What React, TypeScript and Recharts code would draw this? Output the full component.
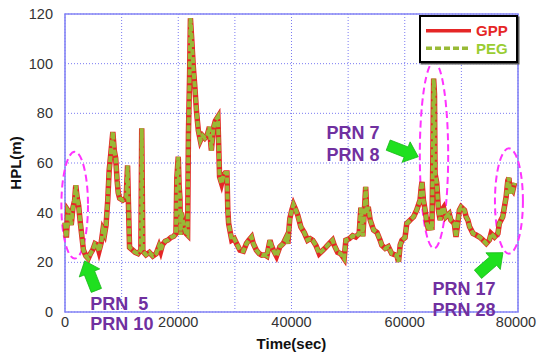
import React from "react";
import {
  LineChart, Line, XAxis, YAxis, CartesianGrid, Legend,
  ReferenceArea, ReferenceLine, ReferenceDot,
} from "recharts";

const FONT = "Arial, 'Liberation Sans', sans-serif";
const GPP_RED = "#e52626";
const PEG_GREEN = "#98ba36";
const GRID_BLUE = "#7b7bf2";

// time axis (s) and horizontal protection level (m)
const timeSec = [
  0, 250, 500, 800, 1100, 1400, 1700, 1900, 2150, 2400, 2700, 3000, 3250, 3700, 4100, 4500,
  4900, 5300, 5700, 6000, 6400, 6700, 7000, 7250, 7550, 7800, 8100, 8450, 8700, 8950, 9200, 9400,
  9650, 10200, 10800, 11050, 11200, 11400, 11900, 12400, 12900, 13400, 13550, 13750, 14300, 14900,
  15500, 16100, 16600, 16900, 17200, 17700, 18200, 18700, 19200, 19600, 19750, 20000, 20150, 20300,
  20400, 20550, 20800, 21100, 21400, 21650, 21800, 22000, 22150, 22350, 22650, 22950, 23250, 23550,
  23900, 24300, 24700, 25100, 25500, 25850, 26200, 26550, 27000, 27300, 27650, 28000, 28300, 28600,
  28750, 28900, 29150, 29450, 29900, 30300, 30900, 31500, 32050, 32500, 32950, 33250, 33800, 34300,
  34750, 35300, 35650, 36200, 36500, 36800, 37350, 37950, 38550, 39100, 39350, 39700, 40050, 40350,
  40700, 41100, 41650, 42250, 42850, 43300, 43750, 44300, 44900, 45500, 46050, 46650, 47250, 47550,
  48150, 48700, 49300, 49600, 50200, 50800, 51350, 51950, 52250, 52450, 52600, 52900, 53100, 53300,
  53550, 53900, 54500, 55100, 55650, 55950, 56550, 57100, 57700, 58300, 58600, 58900, 59200, 59500,
  60050, 60350, 60950, 61550, 62100, 62700, 62900, 63050, 63300, 63600, 63900, 64200, 64500, 64800,
  64950, 65100, 65250, 65350, 65650, 65950, 66250, 66550, 66850, 67250, 67850, 68150, 68750, 69050,
  69350, 69650, 69950, 70550, 70850, 71150, 71450, 71750, 72050, 72600, 73200, 73800, 74400, 74950,
  75250, 75850, 76450, 76700, 77000, 77300, 77600, 77900, 78200, 78400, 78600, 78800, 79100, 79400,
];

const hplGpp = [
  36, 30, 41, 40, 35, 42, 45, 51, 46, 43, 36, 30, 25, 22.5, 21.5, 23.5,
  25, 27.5, 27, 24.5, 28, 33, 31.5, 35, 45, 57, 64, 72.5, 65, 62, 53, 48,
  45.8, 45, 46, 59, 44, 26, 25, 24, 23.5, 25, 74, 24.5, 23, 24,
  22.5, 23.5, 26.5, 24.5, 27, 28.5, 29, 30, 30.5, 31.6, 54, 62.5, 51, 46,
  31, 40, 37, 34, 31.6, 31, 72, 94.6, 118.3, 111, 99, 90, 80, 73,
  69, 71, 70, 71, 74.5, 65, 74, 77, 78.6, 54.4, 51.8, 55, 56, 56,
  41, 35.6, 32.5, 28.9, 29.5, 27.6, 24.9, 24.5, 27.6, 29, 30.2, 27.6, 24.9, 23.5,
  22.9, 23, 22.5, 28.9, 26.5, 24.9, 22.5, 26.3, 27.6, 30.2, 27.5, 37.6, 41, 43.3,
  41.5, 39, 34.3, 32, 28.9, 29.5, 28.9, 26.9, 23.5, 24.8, 26, 27.5, 28.9, 26.9,
  24, 23.5, 21.5, 28.9, 29.5, 30.7, 30.2, 31.6, 42, 35, 30.5, 42, 50.4, 40,
  42.3, 37, 33, 32, 28.9, 26.9, 25.6, 26.3, 23.5, 23, 22.9, 20.2, 27, 28.9,
  30, 35.6, 37, 38.3, 41, 45, 50, 52.4, 45, 41, 36, 33, 35.6, 33,
  60, 94, 88, 55.8, 52, 41, 37, 41, 42, 38.3, 39.6, 37, 35.6, 30.2,
  35.6, 41, 42.3, 41, 38.3, 37, 34.3, 33, 31.6, 31, 30.2, 29, 27.6, 29,
  31.6, 30.2, 31.6, 35.6, 37, 38.3, 42.3, 46.3, 53, 54, 47.7, 50, 49, 52,
];

// PEG follows GPP to within the line width over the whole run
const hplPeg = [...hplGpp];

const xTicks = [0, 10000, 20000, 30000, 40000, 50000, 60000, 70000, 80000];
const yTicks = [0, 20, 40, 60, 80, 100, 120];

// highlighted satellite events: ellipse bounds, arrow tail -> tip, label anchor
const callouts = [
  {
    lines: ["PRN  5", "PRN 10"], labelAt: [4480, 0.7], lineGap: 20,
    ellipse: [-640, 4060, 21.5, 64.5], arrow: [[5540, 8.7], [3480, 20.6]],
  },
  {
    lines: ["PRN 7", "PRN 8"], labelAt: [46190, 69.6], lineGap: 22,
    ellipse: [62660, 67670, 25.6, 100.8], arrow: [[57080, 67.2], [62380, 62.5]],
  },
  {
    lines: ["PRN 17", "PRN 28"], labelAt: [64900, 6.9], lineGap: 21,
    ellipse: [75930, 80870, 23.5, 65.9], arrow: [[72930, 15.2], [77340, 23.9]],
  },
];

const rows = timeSec.map((t, i) => ({ t, gpp: hplGpp[i], peg: hplPeg[i] }));

const Ellipse = (p: any) => (
  <ellipse
    cx={p.x + p.width / 2} cy={p.y + p.height / 2}
    rx={Math.abs(p.width) / 2} ry={Math.abs(p.height) / 2}
    fill="none" stroke="#ff33ff" strokeWidth={2} strokeDasharray="7 4"
  />
);

const Arrow = (p: any) => {
  const { x1, y1, x2, y2 } = p;
  const dx = x2 - x1, dy = y2 - y1;
  const len = Math.hypot(dx, dy);
  const ux = dx / len, uy = dy / len;
  const nx = -uy, ny = ux;
  const s = 5.5, h = 11, hl = 13;
  const bx = x2 - ux * hl, by = y2 - uy * hl;
  const pts = [
    [x1 + nx * s, y1 + ny * s], [bx + nx * s, by + ny * s], [bx + nx * h, by + ny * h],
    [x2, y2],
    [bx - nx * h, by - ny * h], [bx - nx * s, by - ny * s], [x1 - nx * s, y1 - ny * s],
  ];
  return (
    <polygon
      points={pts.map((q) => q.join(",")).join(" ")}
      fill="#1fe01f" stroke="#16b816" strokeWidth={0.8}
    />
  );
};

const makeLabel = (lines: string[], gap: number) => (p: any) => (
  <text
    x={p.cx} y={p.cy} fill="#7030a0" fontFamily={FONT} fontWeight="bold" fontSize={18}
    style={{ whiteSpace: "pre" }}
  >
    {lines.map((l, i) => (
      <tspan key={i} x={p.cx} y={p.cy + i * gap}>{l}</tspan>
    ))}
  </text>
);

// last label sits against the right edge, nudge it in a little
const XTick = (p: any) => {
  const v = p.payload.value;
  if (v % 20000 !== 0) return null;
  const shift = v === 80000 ? -2 : 0;
  return (
    <text x={p.x + shift} y={p.y} dy="0.71em" textAnchor="middle" fontSize={14.5} fill="#333" fontFamily={FONT}>
      {v}
    </text>
  );
};

const YTitle = (p: any) => {
  const vb = p.viewBox || { x: 0, y: 14, width: 65, height: 298 };
  const cx = vb.x + 15;
  const cy = vb.y + vb.height / 2;
  return (
    <text
      x={cx} y={cy} transform={`rotate(-90 ${cx} ${cy})`} textAnchor="middle"
      dominantBaseline="central" fontFamily={FONT} fontWeight="bold" fontSize={15} fill="#111"
    >
      HPL(m)
    </text>
  );
};

const LegendBox = () => (
  <div
    style={{
      width: 99, height: 48, boxSizing: "border-box", border: "2px solid #000",
      background: "#fff", boxShadow: "1.5px 1.5px 0 #555",
    }}
  >
    <svg width={95} height={44}>
      <line x1={5} y1={13.7} x2={50} y2={13.7} stroke={GPP_RED} strokeWidth={3.5} />
      <text x={55} y={19} fill={GPP_RED} fontFamily={FONT} fontWeight="bold" fontSize={15}>GPP</text>
      <line x1={5} y1={31.3} x2={50} y2={31.3} stroke={PEG_GREEN} strokeWidth={3.5} strokeDasharray="6 3" />
      <text x={55} y={36.5} fill="#9acd32" fontFamily={FONT} fontWeight="bold" fontSize={15}>PEG</text>
    </svg>
  </div>
);

const tickStyle = { fontSize: 14.5, fill: "#333", fontFamily: FONT };

export default function App() {
  return (
    <div style={{ position: "absolute", left: 0, top: 0, width: 537, height: 355, background: "#fff" }}>
      <LineChart width={537} height={355} data={rows} margin={{ top: 14, right: 19, bottom: 0, left: 0 }}>
        <CartesianGrid stroke={GRID_BLUE} strokeDasharray="1 2" />
        <XAxis
          dataKey="t" type="number" domain={[0, 80000]} ticks={xTicks} height={43}
          tick={<XTick />} tickSize={0} tickMargin={5} axisLine={false} interval={0}
          label={{ value: "Time(sec)", position: "insideBottom", offset: 6, fontWeight: "bold", fontSize: 15, fill: "#111", fontFamily: FONT }}
        />
        <YAxis
          type="number" domain={[0, 120]} ticks={yTicks} width={65}
          tick={tickStyle} tickSize={0} tickMargin={12} axisLine={false} interval={0}
          label={<YTitle />}
        />
        <Line dataKey="gpp" name="GPP" type="linear" stroke={GPP_RED} strokeWidth={5.5} dot={false} isAnimationActive={false} />
        <Line dataKey="peg" name="PEG" type="linear" stroke={PEG_GREEN} strokeWidth={4} strokeDasharray="6 2" dot={false} isAnimationActive={false} />
        <ReferenceArea x1={0} x2={80000} y1={0} y2={120} fill="none" stroke="#8585f5" strokeWidth={1.6} ifOverflow="visible" />
        {callouts.map((c, i) => (
          <ReferenceArea
            key={`e${i}`} x1={c.ellipse[0]} x2={c.ellipse[1]} y1={c.ellipse[2]} y2={c.ellipse[3]}
            ifOverflow="visible" shape={<Ellipse />}
          />
        ))}
        {callouts.map((c, i) => (
          <ReferenceLine
            key={`a${i}`} ifOverflow="visible"
            segment={[{ x: c.arrow[0][0], y: c.arrow[0][1] }, { x: c.arrow[1][0], y: c.arrow[1][1] }]}
            shape={<Arrow />}
          />
        ))}
        {callouts.map((c, i) => (
          <ReferenceDot
            key={`l${i}`} x={c.labelAt[0]} y={c.labelAt[1]} ifOverflow="visible"
            shape={makeLabel(c.lines, c.lineGap)}
          />
        ))}
        <Legend
          layout="horizontal" verticalAlign="middle" align="center"
          wrapperStyle={{ left: 419, top: 15, width: 99, height: 48 }}
          content={<LegendBox />}
        />
      </LineChart>
    </div>
  );
}
